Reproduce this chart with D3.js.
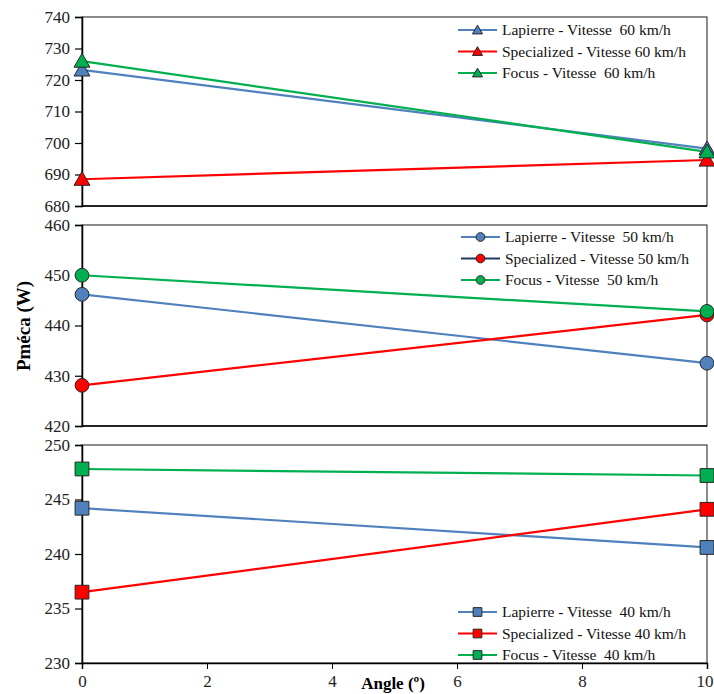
<!DOCTYPE html>
<html><head><meta charset="utf-8">
<script src="https://cdn.jsdelivr.net/npm/d3@7"></script>
<style>body{margin:0;background:#fff}svg{display:block}svg text{font-family:'Liberation Serif','DejaVu Serif',serif}</style>
</head><body>
<script>
const angles = [0, 10];
const xTicks = [0, 2, 4, 6, 8, 10];
const series60 = [
  {name:"Lapierre - Vitesse  60 km/h", values:[723.2, 698.2], color:"#4F81BD", legendLine:"#4F81BD"},
  {name:"Specialized - Vitesse 60 km/h", values:[688.5, 694.6], color:"#FF0000", legendLine:"#FF0000"},
  {name:"Focus - Vitesse  60 km/h", values:[726.0, 697.2], color:"#00B050", legendLine:"#00B050"}
];
const series50 = [
  {name:"Lapierre - Vitesse  50 km/h", values:[446.2, 432.5], color:"#4F81BD", legendLine:"#4F81BD"},
  {name:"Specialized - Vitesse 50 km/h", values:[428.1, 442.1], color:"#FF0000", legendLine:"#1F3864"},
  {name:"Focus - Vitesse  50 km/h", values:[450.0, 442.8], color:"#00B050", legendLine:"#00B050"}
];
const series40 = [
  {name:"Lapierre - Vitesse  40 km/h", values:[244.2, 240.6], color:"#4F81BD", legendLine:"#4F81BD"},
  {name:"Specialized - Vitesse 40 km/h", values:[236.5, 244.1], color:"#FF0000", legendLine:"#FF0000"},
  {name:"Focus - Vitesse  40 km/h", values:[247.8, 247.2], color:"#00B050", legendLine:"#00B050"}
];
const yTicks60 = [680, 690, 700, 710, 720, 730, 740];
const yTicks50 = [420, 430, 440, 450, 460];
const yTicks40 = [230, 235, 240, 245, 250];

const W = 714, H = 694;
const FONT = "'Liberation Serif', 'DejaVu Serif', serif";
const svg = d3.select("body").append("svg").attr("width", W).attr("height", H);

const x = d3.scaleLinear().domain([0, 10]).range([82, 707]);

const panels = [
  {series: series60, ticks: yTicks60, top: 17, bottom: 206, marker: d3.symbolTriangle, msize: 110, legendX: 458, legendY: 30},
  {series: series50, ticks: yTicks50, top: 225, bottom: 426, marker: d3.symbolCircle, msize: 150, legendX: 461, legendY: 237},
  {series: series40, ticks: yTicks40, top: 445, bottom: 663, marker: d3.symbolSquare, msize: 190, legendX: 458, legendY: 612}
];

panels.forEach((p, pi) => {
  const y = d3.scaleLinear().domain([p.ticks[0], p.ticks[p.ticks.length-1]]).range([p.bottom, p.top]);
  const g = svg.append("g");
  g.append("rect").attr("x", x(0)).attr("y", p.top).attr("width", x(10)-x(0)).attr("height", p.bottom-p.top)
    .attr("fill", "none").attr("stroke", "#404040").attr("stroke-width", 1.2);
  const ya = g.append("g").attr("transform", `translate(${x(0)},0)`)
    .call(d3.axisLeft(y).tickValues(p.ticks).tickSize(7).tickPadding(5).tickFormat(d3.format("d")));
  ya.select(".domain").attr("stroke", "#000").attr("stroke-width", 1.5);
  ya.selectAll(".tick line").attr("stroke", "#000").attr("stroke-width", 1.2);
  ya.selectAll("text").attr("font-size", 17).attr("fill", "#222").style("font-family", FONT);
  if (pi === 2) {
    const xa = g.append("g").attr("transform", `translate(0,${p.bottom})`)
      .call(d3.axisBottom(x).tickValues(xTicks).tickSize(6).tickPadding(6));
    xa.select(".domain").attr("stroke", "#000").attr("stroke-width", 1.5);
    xa.selectAll(".tick line").attr("stroke", "#000");
    xa.selectAll("text").attr("font-size", 17).attr("fill", "#222").style("font-family", FONT)
      .filter(d => d === 10).attr("text-anchor", "end").attr("dx", 6);
  } else {
    g.append("line").attr("x1", x(0)).attr("x2", x(10)).attr("y1", p.bottom).attr("y2", p.bottom)
      .attr("stroke", "#000").attr("stroke-width", 1.5);
  }
  const line = d3.line().x((d, i) => x(angles[i])).y(d => y(d));
  p.series.forEach(s => {
    g.append("path").datum(s.values).attr("d", line).attr("fill", "none")
      .attr("stroke", s.color).attr("stroke-width", 2.2);
  });
  p.series.forEach(s => {
    g.selectAll(null).data(s.values).enter().append("path")
      .attr("d", d3.symbol().type(p.marker).size(p.msize))
      .attr("transform", (d, i) => `translate(${x(angles[i])},${y(d) + (p.marker === d3.symbolTriangle ? 1.5 : 0)})`)
      .attr("fill", s.color).attr("stroke", "#262626").attr("stroke-width", 1);
  });
  const lg = g.append("g");
  p.series.forEach((s, i) => {
    const ly = p.legendY + i * 21.5;
    lg.append("line").attr("x1", p.legendX).attr("x2", p.legendX + 39).attr("y1", ly).attr("y2", ly)
      .attr("stroke", s.legendLine).attr("stroke-width", 2.2);
    lg.append("path").attr("d", d3.symbol().type(p.marker).size(p.msize * 0.4))
      .attr("transform", `translate(${p.legendX + 19.5},${ly + (p.marker === d3.symbolTriangle ? 1 : 0)})`)
      .attr("fill", s.color).attr("stroke", "#262626").attr("stroke-width", 1);
    lg.append("text").attr("x", p.legendX + 44).attr("y", ly + 5).attr("font-size", 15.5)
      .style("font-family", FONT).attr("fill", "#111").text(s.name.replace(/  /g, "\u00a0 "));
  });
});

svg.append("text").attr("transform", "translate(30,326) rotate(-90)").attr("text-anchor", "middle")
  .style("font-family", FONT).attr("font-size", 19).attr("font-weight", "bold").text("Pméca (W)");
svg.append("text").attr("x", 393).attr("y", 689).attr("text-anchor", "middle")
  .style("font-family", FONT).attr("font-size", 17).attr("font-weight", "bold").text("Angle (º)");
</script>
</body></html>
